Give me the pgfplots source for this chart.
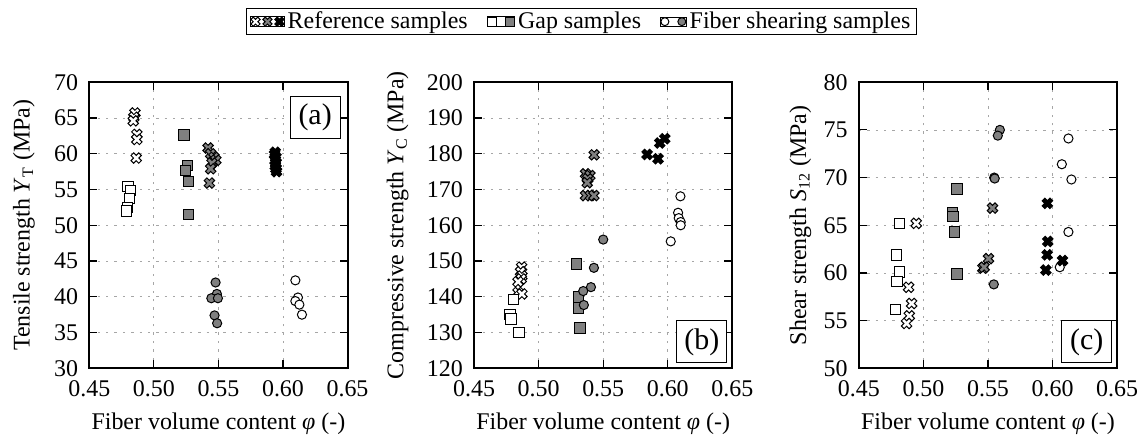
\documentclass[12pt,border=0pt]{standalone}
\usepackage{fontspec}
\setmainfont{Liberation Serif}
\usepackage{pgfplots}
\pgfplotsset{compat=1.18}

% bold x-shaped mark, filled and stroked
\pgfdeclareplotmark{xcross}{%
  \pgftransformrotate{45}%
  \pgfpathmoveto{\pgfqpoint{0.38\pgfplotmarksize}{1.1\pgfplotmarksize}}%
  \pgfpathlineto{\pgfqpoint{0.38\pgfplotmarksize}{0.38\pgfplotmarksize}}%
  \pgfpathlineto{\pgfqpoint{1.1\pgfplotmarksize}{0.38\pgfplotmarksize}}%
  \pgfpathlineto{\pgfqpoint{1.1\pgfplotmarksize}{-0.38\pgfplotmarksize}}%
  \pgfpathlineto{\pgfqpoint{0.38\pgfplotmarksize}{-0.38\pgfplotmarksize}}%
  \pgfpathlineto{\pgfqpoint{0.38\pgfplotmarksize}{-1.1\pgfplotmarksize}}%
  \pgfpathlineto{\pgfqpoint{-0.38\pgfplotmarksize}{-1.1\pgfplotmarksize}}%
  \pgfpathlineto{\pgfqpoint{-0.38\pgfplotmarksize}{-0.38\pgfplotmarksize}}%
  \pgfpathlineto{\pgfqpoint{-1.1\pgfplotmarksize}{-0.38\pgfplotmarksize}}%
  \pgfpathlineto{\pgfqpoint{-1.1\pgfplotmarksize}{0.38\pgfplotmarksize}}%
  \pgfpathlineto{\pgfqpoint{-0.38\pgfplotmarksize}{0.38\pgfplotmarksize}}%
  \pgfpathlineto{\pgfqpoint{-0.38\pgfplotmarksize}{1.1\pgfplotmarksize}}%
  \pgfpathclose
  \pgfusepathqfillstroke
}

\definecolor{mgray}{gray}{0.5}

\tikzset{tag/.style={draw=black, line width=0.5pt, fill=white, inner sep=0pt,
    minimum width=25pt, minimum height=21pt, font=\fontsize{15}{17}\selectfont}}

\pgfplotsset{
  refW/.style={only marks, mark=xcross, mark size=2.5pt, mark options={draw=black, fill=white, line width=0.5pt}},
  refG/.style={only marks, mark=xcross, mark size=2.5pt, mark options={draw=black, fill=mgray, line width=0.5pt}},
  refB/.style={only marks, mark=xcross, mark size=2.5pt, mark options={draw=black, fill=black, line width=0.5pt}},
  gapW/.style={only marks, mark=square*, mark size=2.6pt, mark options={draw=black, fill=white, line width=0.5pt}},
  gapG/.style={only marks, mark=square*, mark size=2.6pt, mark options={draw=black, fill=mgray, line width=0.5pt}},
  fibW/.style={only marks, mark=*, mark size=2.3pt, mark options={draw=black, fill=white, line width=0.5pt}},
  fibG/.style={only marks, mark=*, mark size=2.3pt, mark options={draw=black, fill=mgray, line width=0.5pt}},
  panel/.style={
    width=129.5pt, height=143.5pt, scale only axis,
    xmin=0.45, xmax=0.65, xtick={0.45,0.5,0.55,0.6,0.65},
    x tick label style={/pgf/number format/fixed, /pgf/number format/fixed zerofill, /pgf/number format/precision=2, yshift=-2pt, inner xsep=1pt},
    y tick label style={xshift=-1.5pt},
    tick label style={font=\rmfamily},
    /pgf/number format/assume math mode=true,
    grid=major, grid style={gray!70, dash pattern=on 1.2pt off 3pt, line width=0.4pt},
    axis line style={line width=1pt},
    tick align=inside, xtick pos=both, ytick pos=both,
    major tick length=4pt, tick style={black, line width=0.6pt},
    xlabel={Fiber volume content \textit{φ} (-)},
    xlabel style={inner sep=1pt, yshift=-3pt},
  },
}

\begin{document}
\begin{tikzpicture}
% (a) tensile
\begin{axis}[panel, at={(0pt,0pt)}, ymin=30, ymax=70, ytick={30,35,...,70},
  ylabel={Tensile strength \textit{Y}\textsubscript{T} (MPa)}, ylabel style={yshift=1.5pt}]
\addplot[refW] coordinates {(0.4853,65.7) (0.4845,65.1) (0.4840,64.6) (0.4868,62.7) (0.4868,62.0) (0.4863,59.4)};
\addplot[refG] coordinates {(0.5420,60.8) (0.5440,60.0) (0.5465,59.5) (0.5480,59.1) (0.5450,58.7) (0.5440,57.9) (0.5430,55.9)};
\addplot[refB] coordinates {(0.5940,60.2) (0.5935,59.9) (0.5945,59.5) (0.5940,59.1) (0.5945,58.7) (0.5940,58.3) (0.5945,57.9) (0.5950,57.5)};
\addplot[gapW] coordinates {(0.4800,55.4) (0.4820,54.9) (0.4810,53.7) (0.4796,52.5) (0.4788,52.0)};
\addplot[gapG] coordinates {(0.5234,62.6) (0.5260,58.4) (0.5244,57.7) (0.5267,56.1) (0.5267,51.5)};
\addplot[fibW] coordinates {(0.6096,42.3) (0.6116,39.9) (0.6096,39.4) (0.6127,38.9) (0.6147,37.5)};
\addplot[fibG] coordinates {(0.5478,42.0) (0.5488,40.4) (0.5445,39.8) (0.5496,39.8) (0.5470,37.4) (0.5490,36.3)};
\node[tag, anchor=north east, xshift=-3.5pt, yshift=-7pt] at (rel axis cs:1,1) {(a)};
\end{axis}
% (b) compressive
\begin{axis}[panel, at={(193pt,0pt)}, ymin=120, ymax=200, ytick={120,130,...,200},
  ylabel={Compressive strength \textit{Y}\textsubscript{C} (MPa)}, ylabel style={yshift=1pt},
  legend style={at={(0.415,1)}, anchor=south, yshift=23.5pt, draw=black, line width=0.5pt,
    legend columns=3, inner xsep=2pt, inner ysep=0.5pt, nodes={inner sep=1pt},
    /tikz/every odd column/.append style={column sep=0.5pt},
    /tikz/every even column/.append style={column sep=8.5pt}},
  legend cell align=left]
\addlegendimage{legend image code/.code={%
  \path (-2.4pt,-2.4pt) rectangle (14.4pt,2.4pt);
  \draw plot[only marks, mark=xcross, mark size=2.2pt, mark options={draw=black, fill=white, line width=0.5pt}] coordinates {(0pt,0pt)};
  \draw plot[only marks, mark=xcross, mark size=2.2pt, mark options={draw=black, fill=mgray, line width=0.5pt}] coordinates {(6pt,0pt)};
  \draw plot[only marks, mark=xcross, mark size=2.2pt, mark options={draw=black, fill=black, line width=0.5pt}] coordinates {(12pt,0pt)};}}
\addlegendentry{Reference samples}
\addlegendimage{legend image code/.code={%
  \path (-2.4pt,-2.4pt) rectangle (11.4pt,2.4pt);
  \draw plot[only marks, mark=square*, mark size=2.2pt, mark options={draw=black, fill=white, line width=0.5pt}] coordinates {(0pt,0pt)};
  \draw plot[only marks, mark=square*, mark size=2.2pt, mark options={draw=black, fill=mgray, line width=0.5pt}] coordinates {(9pt,0pt)};}}
\addlegendentry{Gap samples}
\addlegendimage{legend image code/.code={%
  \path (-2.2pt,-2.2pt) rectangle (10.7pt,2.2pt);
  \draw plot[only marks, mark=*, mark size=2pt, mark options={draw=black, fill=white, line width=0.5pt}] coordinates {(0pt,0pt)};
  \draw plot[only marks, mark=*, mark size=2pt, mark options={draw=black, fill=mgray, line width=0.5pt}] coordinates {(8.5pt,0pt)};}}
\addlegendentry{Fiber shearing samples}
\addplot[refW, forget plot] coordinates {(0.4868,148.3) (0.4860,147.0) (0.4870,145.8) (0.4865,145.0) (0.4840,144.2) (0.4840,141.2) (0.4870,140.8)};
\addplot[gapW, forget plot] coordinates {(0.4804,139.2) (0.4778,135.0) (0.4786,133.8) (0.4848,130.1)};
\addplot[refG, forget plot] coordinates {(0.5430,179.7) (0.5363,174.4) (0.5397,173.9) (0.5380,173.0) (0.5376,171.9) (0.5363,168.3) (0.5400,168.3) (0.5428,168.3)};
\addplot[gapG, forget plot] coordinates {(0.5294,149.2) (0.5307,139.9) (0.5307,136.9) (0.5320,131.3)};
\addplot[fibG, forget plot] coordinates {(0.5500,156.0) (0.5428,148.1) (0.5405,142.7) (0.5345,141.6) (0.5350,137.7)};
\addplot[refB, forget plot] coordinates {(0.5840,179.8) (0.5925,178.6) (0.5938,183.0) (0.5977,184.2)};
\addplot[fibW, forget plot] coordinates {(0.6098,168.1) (0.6080,163.5) (0.6085,162.0) (0.6100,160.9) (0.6100,160.0) (0.6023,155.5)};
\node[tag, anchor=south east, xshift=-2.5pt, yshift=2.5pt] at (rel axis cs:1,0) {(b)};
\end{axis}
% (c) shear
\begin{axis}[panel, at={(386pt,0pt)}, ymin=50, ymax=80, ytick={50,55,...,80},
  ylabel={Shear strength \textit{S}\textsubscript{12} (MPa)}, ylabel style={yshift=-2pt}]
\addplot[gapW] coordinates {(0.4815,65.2) (0.4789,61.9) (0.4812,60.1) (0.4794,59.1) (0.4784,56.2)};
\addplot[refW] coordinates {(0.4944,65.2) (0.4885,58.5) (0.4908,56.8) (0.4890,55.5) (0.4869,54.7)};
\addplot[gapG] coordinates {(0.5261,68.8) (0.5225,66.3) (0.5228,65.9) (0.5240,64.3) (0.5261,59.9)};
\addplot[refG] coordinates {(0.5535,66.8) (0.5504,61.5) (0.5460,60.5) (0.5470,60.6)};
\addplot[fibG] coordinates {(0.5592,75.0) (0.5576,74.4) (0.5548,70.0) (0.5552,69.9) (0.5545,58.8)};
\addplot[fibW] coordinates {(0.6123,74.1) (0.6072,71.4) (0.6146,69.8) (0.6123,64.3) (0.6056,60.6)};
\addplot[refB] coordinates {(0.5960,67.3) (0.5963,63.3) (0.5958,61.9) (0.5948,60.3) (0.6077,61.3)};
\node[tag, anchor=south east, xshift=-2.5pt, yshift=2.5pt] at (rel axis cs:1,0) {(c)};
\end{axis}
% small white margin as in the reference
\path ([shift={(-2.5pt,-0.5pt)}]current bounding box.south west) rectangle ([shift={(1pt,4pt)}]current bounding box.north east);
\end{tikzpicture}
\end{document}
